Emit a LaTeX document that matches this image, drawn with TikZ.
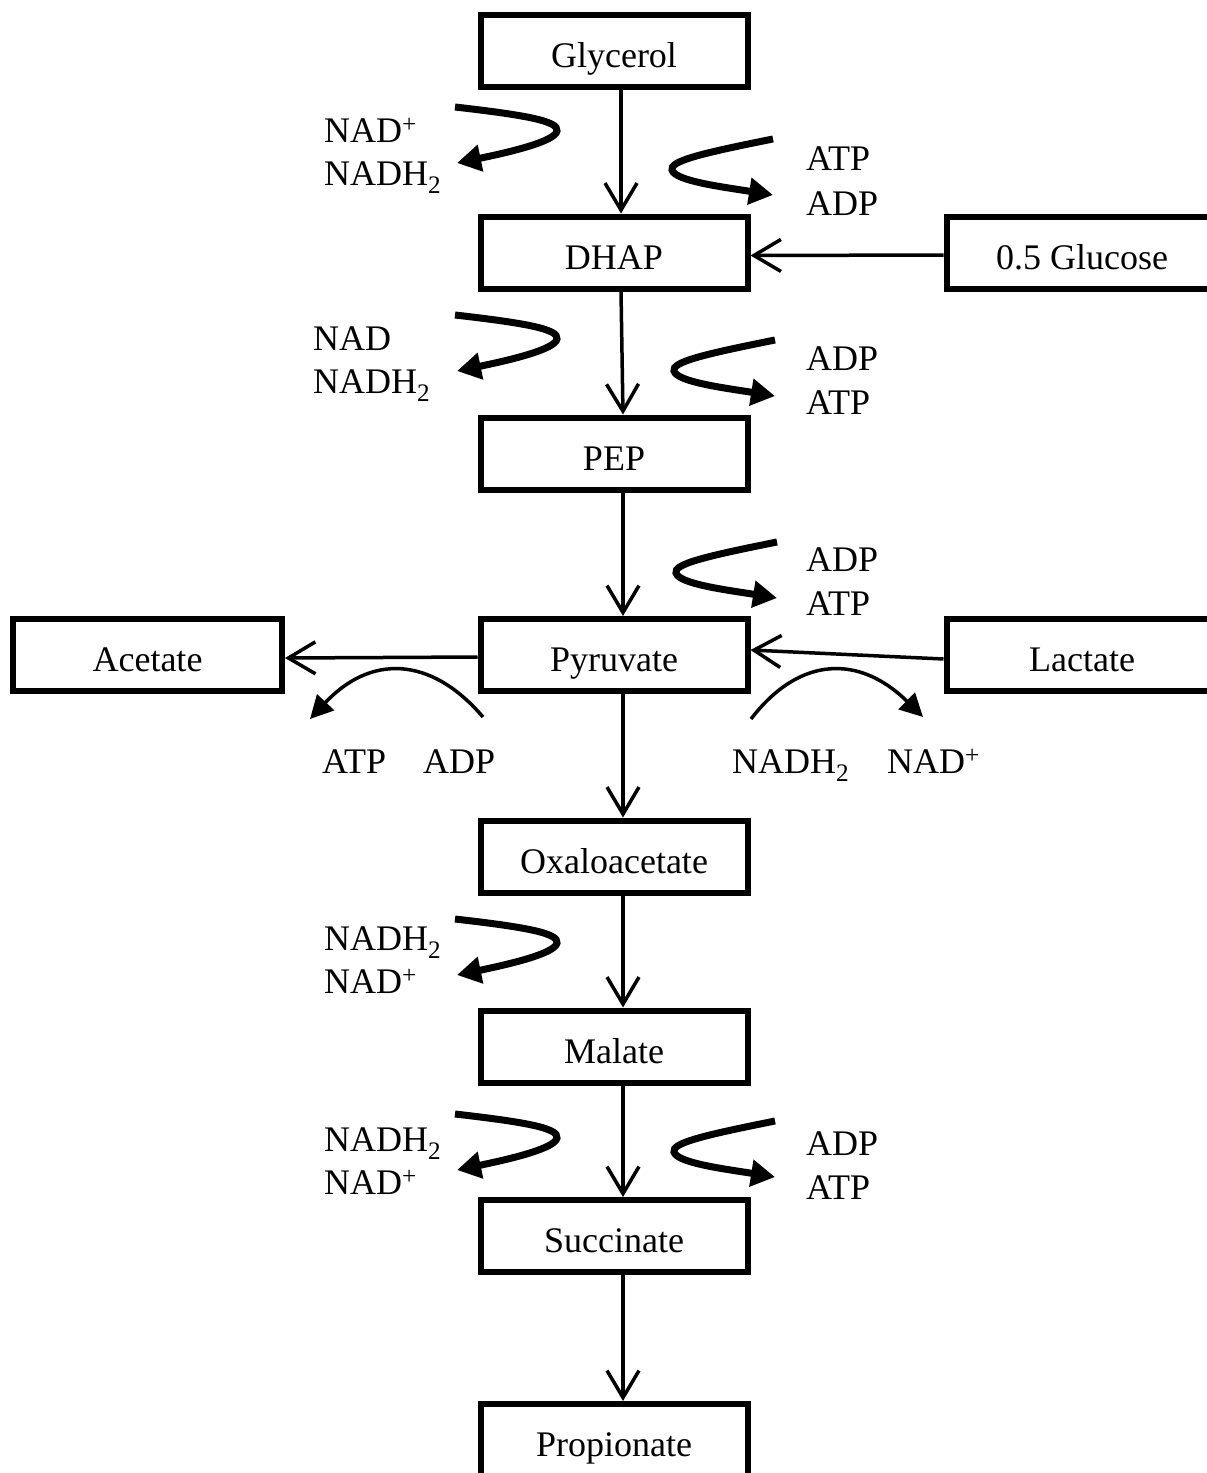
\documentclass[tikz,border=0pt]{standalone}
\usepackage{fontspec}
\setmainfont{Liberation Serif}
\usetikzlibrary{arrows.meta}
\begin{document}
\begin{tikzpicture}[x=1pt,y=-1pt,
  box/.style={draw,line width=6pt,rectangle,inner sep=0pt,minimum width=267pt,minimum height=72pt,text height=33pt,text depth=0pt,font=\fontsize{36}{43}\selectfont},
  lbl/.style={anchor=base west,inner sep=0pt,font=\fontsize{36}{43}\selectfont},
  flow/.style={line width=3.5pt,-{Straight Barb[length=27pt,width=32pt]}},
  hook/.style={line width=7pt,-{Triangle[length=24pt,width=26pt]}},
  thincurve/.style={line width=3.5pt,-{Triangle[length=23pt,width=23pt]}},
  lhook/.pic={\draw[hook] (0,0) .. controls (70,8) and (104,14) .. (102,24) .. controls (100,34) and (60,44) .. (2,56);},
  rhook/.pic={\draw[hook] (0,0) .. controls (-70,14) and (-104,22) .. (-101,31) .. controls (-98,42) and (-50,48) .. (0,56);}
]
\useasboundingbox (0,0) rectangle (1207,1473);
\clip (0,0) rectangle (1207,1473);

% boxes
\node[box] (gly) at (614,51) {Glycerol};
\node[box] (dhap) at (614,252.5) {DHAP};
\node[box,minimum width=271pt] (glu) at (1082,252.5) {0.5 Glucose};
\node[box] (pep) at (614,453.5) {PEP};
\node[box] (pyr) at (614,655) {Pyruvate};
\node[box,minimum width=269pt] (ace) at (147.5,655) {Acetate};
\node[box,minimum width=271pt] (lac) at (1082,655) {Lactate};
\node[box] (oxa) at (614,856.5) {Oxaloacetate};
\node[box] (mal) at (614,1046.5) {Malate};
\node[box] (suc) at (614,1236) {Succinate};
\node[box] (pro) at (614,1440) {Propionate};

% main flow
\draw[flow] ([xshift=7pt]gly.south) -- ([xshift=7pt]dhap.north);
\draw[flow] ([xshift=7pt]dhap.south) -- ([xshift=9pt]pep.north);
\draw[flow] ([xshift=9pt]pep.south) -- ([xshift=9pt]pyr.north);
\draw[flow] ([xshift=9pt]pyr.south) -- ([xshift=9pt]oxa.north);
\draw[flow] ([xshift=9pt]oxa.south) -- ([xshift=9pt]mal.north);
\draw[flow] ([xshift=9pt]mal.south) -- ([xshift=9pt]suc.north);
\draw[flow] ([xshift=9pt]suc.south) -- ([xshift=9pt]pro.north);
\draw[flow] ([yshift=-2.5pt]glu.west) -- ([yshift=-3pt]dhap.east);
\draw[flow] ([yshift=-2pt]pyr.west) -- ([yshift=-3pt]ace.east);
\draw[flow] ([yshift=-4pt]lac.west) -- ([yshift=5pt]pyr.east);

% cofactor hooks
\pic at (455,107) {lhook};
\pic at (455,315) {lhook};
\pic at (455,919) {lhook};
\pic at (455,1114) {lhook};
\pic at (773,139) {rhook};
\pic at (775,340) {rhook};
\pic at (777,542) {rhook};
\pic at (775,1121) {rhook};

% thin curved arrows
\coordinate (ac0) at (483,717);
\coordinate (ac1) at (310,719);
\draw[thincurve] (ac0) .. controls (430,655) and (370,655) .. (ac1);
\coordinate (lc0) at (751,719);
\coordinate (lc1) at (923,717);
\draw[thincurve] (lc0) .. controls (800,655) and (860,655) .. (lc1);

% labels
\node[lbl] (l1a) at (324,142) {NAD\textsuperscript{+}};
\node[lbl] (l1b) at (324,185) {NADH\textsubscript{2}};
\node[lbl] (r1a) at (806,170) {ATP};
\node[lbl] (r1b) at (806,215) {ADP};
\node[lbl] (l2a) at (313,350) {NAD};
\node[lbl] (l2b) at (313,393) {NADH\textsubscript{2}};
\node[lbl] (r2a) at (806,370) {ADP};
\node[lbl] (r2b) at (806,414) {ATP};
\node[lbl] (r3a) at (806,571) {ADP};
\node[lbl] (r3b) at (806,615) {ATP};
\node[lbl] (b1) at (322,773) {ATP};
\node[lbl] (b2) at (423,773) {ADP};
\node[lbl] (b3) at (732,773) {NADH\textsubscript{2}};
\node[lbl] (b4) at (887,773) {NAD\textsuperscript{+}};
\node[lbl] (l3a) at (324,950) {NADH\textsubscript{2}};
\node[lbl] (l3b) at (324,993) {NAD\textsuperscript{+}};
\node[lbl] (l4a) at (324,1151) {NADH\textsubscript{2}};
\node[lbl] (l4b) at (324,1194) {NAD\textsuperscript{+}};
\node[lbl] (r4a) at (806,1155) {ADP};
\node[lbl] (r4b) at (806,1199) {ATP};
\end{tikzpicture}
\end{document}
